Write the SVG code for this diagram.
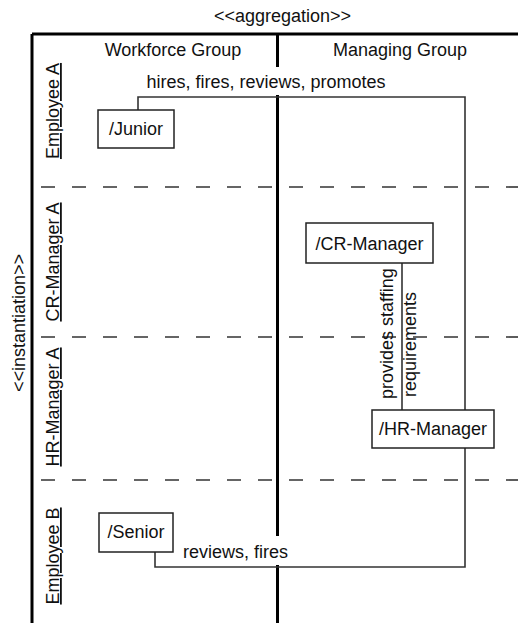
<svg xmlns="http://www.w3.org/2000/svg" width="518" height="623" viewBox="0 0 518 623">
  <style>
    text { font-family: "Liberation Sans", Arial, sans-serif; font-size: 18px; fill: #111; }
    .mid { text-anchor: middle; }
    .lane { text-anchor: middle; text-decoration: underline; }
    .frame { stroke: #000; stroke-width: 3; fill: none; }
    .divider { stroke: #333; stroke-width: 1.6; stroke-dasharray: 14 17; stroke-dashoffset: 22; fill: none; }
    .box { fill: #fff; stroke: #222; stroke-width: 1.5; }
    .link { fill: none; stroke: #333; stroke-width: 1.6; }
  </style>
  <rect width="518" height="623" fill="#fff"/>

  <!-- partition frame -->
  <g id="frame">
    <line class="frame" x1="32" y1="34" x2="518" y2="34"/>
    <line class="frame" x1="32" y1="34" x2="32" y2="623"/>
    <line class="frame" x1="277.5" y1="34" x2="277.5" y2="67"/>
    <line class="frame" x1="277.5" y1="95" x2="277.5" y2="536"/>
    <line class="frame" x1="277.5" y1="565" x2="277.5" y2="623"/>
    <line class="divider" x1="32" y1="187" x2="518" y2="187"/>
    <line class="divider" x1="32" y1="337" x2="518" y2="337"/>
    <line class="divider" x1="32" y1="480" x2="518" y2="480"/>
  </g>

  <!-- partition headings -->
  <g id="headings">
    <text class="mid" x="282.5" y="22">&lt;&lt;aggregation&gt;&gt;</text>
    <text class="mid" x="173" y="56">Workforce Group</text>
    <text class="mid" x="400" y="56">Managing Group</text>
    <text class="mid" transform="translate(25,323) rotate(-90)">&lt;&lt;instantiation&gt;&gt;</text>
    <text class="lane" transform="translate(59,111) rotate(-90)">Employee A</text>
    <text class="lane" transform="translate(59,262) rotate(-90)">CR-Manager A</text>
    <text class="lane" transform="translate(59,407) rotate(-90)">HR-Manager A</text>
    <text class="lane" transform="translate(59,556) rotate(-90)">Employee B</text>
  </g>

  <!-- connectors -->
  <g id="connectors">
    <polyline class="link" points="138,110 138,97 465,97 465,410"/>
    <polyline class="link" points="465,448 465,567 155,567 155,552"/>
    <line class="link" x1="402" y1="263" x2="402" y2="410"/>
    <text class="mid" x="266" y="88">hires, fires, reviews, promotes</text>
    <text x="183" y="558">reviews, fires</text>
    <text transform="translate(393,399) rotate(-90)">provides staffing</text>
    <text transform="translate(416,397) rotate(-90)">requirements</text>
  </g>

  <g id="junior">
    <rect class="box" x="98" y="110" width="76" height="38"/>
    <text class="mid" x="136" y="135">/Junior</text>
  </g>
  <g id="cr-manager">
    <rect class="box" x="306" y="223" width="127" height="40"/>
    <text class="mid" x="369.5" y="250">/CR-Manager</text>
  </g>
  <g id="hr-manager">
    <rect class="box" x="372" y="410" width="122" height="38"/>
    <text class="mid" x="433" y="435">/HR-Manager</text>
  </g>
  <g id="senior">
    <rect class="box" x="99" y="513" width="74" height="39"/>
    <text class="mid" x="136" y="538">/Senior</text>
  </g>
</svg>
